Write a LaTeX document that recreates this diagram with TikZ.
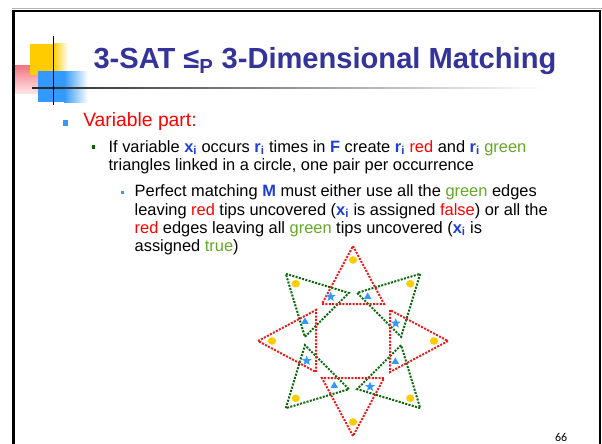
\documentclass[tikz,border=0pt]{standalone}
\usepackage{fontspec}
\setmainfont{Liberation Sans}
\newfontfamily\pgnumfont{Carlito}
\usetikzlibrary{shapes.geometric}
\definecolor{titleblue}{RGB}{51,51,153}
\definecolor{kwblue}{RGB}{30,64,210}
\definecolor{tgreen}{RGB}{100,168,40}
\definecolor{tred}{RGB}{255,0,0}
\definecolor{logoyellow}{RGB}{255,204,0}
\definecolor{logoblue}{RGB}{51,153,255}
\definecolor{logopink}{RGB}{242,120,130}
\definecolor{logopinklight}{RGB}{255,228,230}
\definecolor{bulletgreen}{RGB}{0,102,0}
\definecolor{dotred}{RGB}{235,25,25}
\definecolor{dotgreen}{RGB}{10,105,10}
\definecolor{markblue}{RGB}{51,153,255}
\definecolor{markyellow}{RGB}{255,204,0}
\newcommand\kb[1]{\textcolor{kwblue}{\textbf{#1}}}
\newcommand\vx{\kb{x\textsubscript{i}}}
\newcommand\vr{\kb{r\textsubscript{i}}}
\newcommand\tr[1]{\textcolor{tred}{#1}}
\newcommand\tg[1]{\textcolor{tgreen}{#1}}
\begin{document}
\begin{tikzpicture}[x=1pt,y=-1pt,
  txt/.style={anchor=base west,inner sep=0pt,outer sep=0pt},
  lvltwo/.style={txt,font=\fontsize{16.4}{18}\selectfont},
  reddot/.style={draw=dotred,line width=2pt,dash pattern=on 2pt off 1.4pt},
  greendot/.style={draw=dotgreen,line width=2pt,dash pattern=on 2pt off 1.4pt},
  bstar/.style={star,star points=5,star point ratio=2.4,fill=markblue,minimum size=10.5pt,inner sep=0pt},
  btri/.style={regular polygon,regular polygon sides=3,fill=markblue,minimum size=8.5pt,inner sep=0pt}]
\useasboundingbox (0,0) rectangle (602,444);
\fill[white] (0,0) rectangle (602,444);
% slide frame
\draw[gray!60, line width=0.9pt] (12,8.3) -- (602,8.3);
\draw[black, line width=2.6pt] (13.3,460) -- (13.3,11) -- (599.8,11) -- (599.8,460);
% logo
\shade[top color=logopink, bottom color=logopinklight] (15,66) rectangle (38,93);
\fill[logoyellow] (30,44) rectangle (53,75);
\shade[left color=logoyellow, right color=white] (53,44) rectangle (68,75);
\fill[logoblue] (38,71) rectangle (64,102);
\shade[left color=logoblue, right color=white] (64,71) rectangle (88,102);
\shade[left color=black!85, right color=white] (32,87.2) rectangle (545,88.8);
\draw[black, line width=1.3pt] (53.3,36) -- (53.3,105);
% title
\node[txt] (title) at (93.5,68.3) {\fontsize{29.1}{31}\selectfont\bfseries\color{titleblue}3-SAT ≤\textsubscript{P} 3-Dimensional Matching};
% bullets
\fill[logoblue] (62.7,120.2) rectangle (68.3,125.8);
\fill[bulletgreen] (91.5,145.3) rectangle (95.2,149.1);
\fill[logoblue] (121,191) rectangle (124.4,194.4);
% text
\node[txt, text=tred] (l1) at (83.3,126.7) {\fontsize{19.3}{22}\selectfont Variable part:};
\node[lvltwo] (l2a) at (108.6,152.3) {If variable \vx{} occurs \vr{} times in \kb{F} create \vr{} \tr{red} and \vr{} \tg{green}};
\node[lvltwo] (l2b) at (108.6,170.6) {triangles linked in a circle, one pair per occurrence};
\node[lvltwo] (l3a) at (134.7,196.7) {Perfect matching \kb{M} must either use all the \tg{green} edges};
\node[lvltwo] (l3b) at (134.7,215) {leaving \tr{red} tips uncovered (\vx{} is assigned \tr{false}) or all the};
\node[lvltwo] (l3c) at (134.7,233.3) {\tr{red} edges leaving all \tg{green} tips uncovered (\vx{} is};
\node[lvltwo] (l3d) at (134.7,251.6) {assigned \tg{true})};
% variable gadget
\begin{scope}[shift={(353,341)}]
  \foreach \a in {45,135,225,315}
    \draw[greendot] (\a:95) -- (\a+40:48.3) -- (\a-40:48.3) -- cycle;
  \foreach \a in {0,90,180,270}
    \draw[reddot] (\a:95) -- (\a+40:48.3) -- (\a-40:48.3) -- cycle;
  \foreach \a in {0,45,...,315}
    \fill[markyellow] (\a:81) ellipse (4.1 and 3.8);
\end{scope}
\node[bstar] (s1) at (330.7,296.7) {};
\node[bstar] (s2) at (395.7,323.3) {};
\node[bstar] (s3) at (370,386.7) {};
\node[bstar] (s4) at (306.7,360.7) {};
\node[btri] (t1) at (367.7,296.7) {};
\node[btri] (t2) at (395.3,361.7) {};
\node[btri] (t3) at (334.3,385.7) {};
\node[btri] (t4) at (305,321.7) {};
% page number
\node[txt] (pg) at (555,441.5) {\pgnumfont\fontsize{12}{14}\selectfont 66};
\end{tikzpicture}
\end{document}
